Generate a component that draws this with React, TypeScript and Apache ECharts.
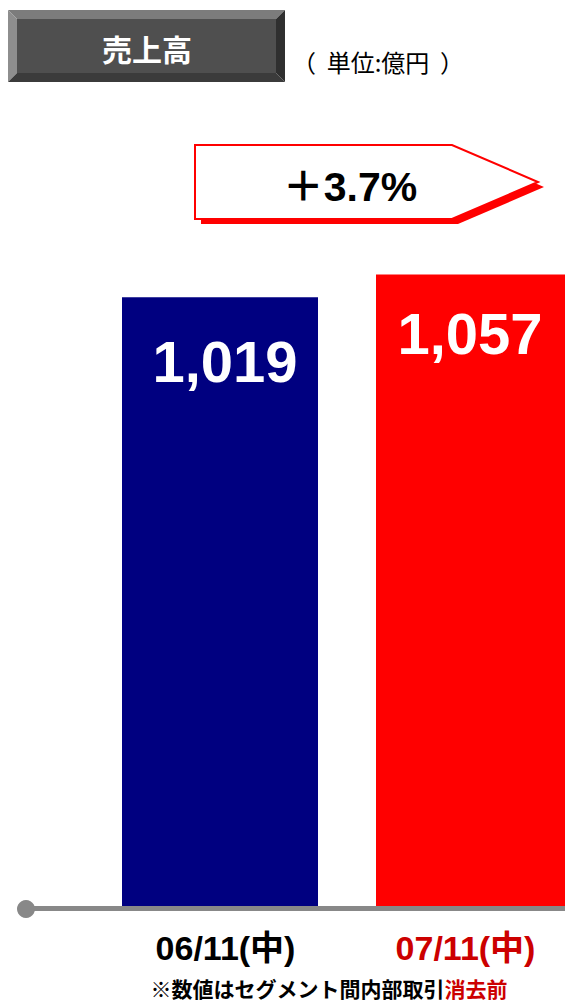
import React, { useEffect, useRef } from "react";
import * as echarts from "echarts";

const categories = ["06/11(中)", "07/11(中)"];
const values = [1019, 1057];
const barColors = ["#000080", "#ff0000"];
const labelColors = ["#000000", "#cc0000"];
const changeText = "＋3.7%";
const titleText = "売上高";
const unitText = "（  単位:億円  ）";
const noteBlack = "※数値はセグメント間内部取引";
const noteRed = "消去前";

export default function App() {
  const ref = useRef<HTMLDivElement>(null);
  useEffect(() => {
    if (!ref.current) return;
    const chart = echarts.init(ref.current, null, { renderer: "svg" });
    const labelOffsets = [[5, 0], [-4, 0]];
    const labelDistances = [35, 30];
    const catPads = [[0, 0, 0, 11], [0, 17, 0, 0]];
    chart.setOption({
      animation: false,
      backgroundColor: "#ffffff",
      grid: { left: 220, width: 254, top: 189, height: 717, containLabel: false },
      xAxis: {
        type: "category",
        boundaryGap: false,
        data: categories.map((c, i) => ({
          value: c,
          textStyle: { color: labelColors[i], padding: catPads[i] },
        })),
        axisLine: { show: false },
        axisTick: { show: false },
        splitLine: { show: false },
        axisLabel: {
          margin: 25,
          fontSize: 34,
          fontWeight: "bold",
          fontFamily: "'Liberation Sans', 'Noto Sans CJK JP', sans-serif",
          interval: 0,
        },
      },
      yAxis: {
        type: "value",
        min: 0,
        max: 1200,
        show: false,
        splitLine: { show: false },
      },
      series: [
        {
          type: "bar",
          barWidth: 196,
          data: values.map((v, i) => ({
            value: v,
            itemStyle: { color: barColors[i] },
            label: {
              show: true,
              position: "insideTop",
              distance: labelDistances[i],
              offset: labelOffsets[i],
              formatter: (p: any) => Number(p.value).toLocaleString("en-US"),
              color: "#ffffff",
              fontSize: 58,
              fontWeight: "bold",
              fontFamily: "'Liberation Sans', Arial, sans-serif",
            },
          })),
        },
      ],
      graphic: [
        { type: "polygon", shape: { points: [[8, 10], [285, 10], [276, 19], [17, 19]] }, style: { fill: "#7c7c7c" }, z: 10 },
        { type: "polygon", shape: { points: [[8, 10], [17, 19], [17, 73], [8, 82]] }, style: { fill: "#8e8e8e" }, z: 10 },
        { type: "polygon", shape: { points: [[285, 10], [285, 82], [276, 73], [276, 19]] }, style: { fill: "#2f2f2f" }, z: 10 },
        { type: "polygon", shape: { points: [[8, 82], [17, 73], [276, 73], [285, 82]] }, style: { fill: "#3b3b3b" }, z: 10 },
        { type: "rect", shape: { x: 17, y: 19, width: 259, height: 54 }, style: { fill: "#4f4f4f" }, z: 10 },
        {
          type: "text", x: 147, y: 48, z: 11,
          style: { text: titleText, fill: "#ffffff", font: "bold 30px 'Noto Sans CJK JP'", align: "center", verticalAlign: "middle" },
        },
        {
          type: "text", x: 378, y: 61, z: 11,
          style: { text: unitText, fill: "#000000", font: "24px 'Noto Sans CJK JP'", align: "center", verticalAlign: "middle" },
        },
        {
          type: "polygon", z: 10,
          shape: { points: [[201, 150], [458, 150], [544, 187], [458, 224], [201, 224]] },
          style: { fill: "#ff0000" },
        },
        {
          type: "polygon", z: 11,
          shape: { points: [[195, 145], [452, 145], [538, 182], [452, 219], [195, 219]] },
          style: { fill: "#ffffff", stroke: "#ff0000", lineWidth: 2 },
        },
        {
          type: "text", x: 350, y: 187, z: 12,
          style: { text: changeText, fill: "#000000", font: "bold 41px 'Liberation Sans', 'Noto Sans CJK JP'", align: "center", verticalAlign: "middle" },
        },
        {
          type: "line", z: 20,
          shape: { x1: 26, y1: 908.5, x2: 565, y2: 908.5 },
          style: { stroke: "#888888", lineWidth: 5 },
        },
        { type: "circle", z: 21, shape: { cx: 26, cy: 909, r: 9 }, style: { fill: "#888888" } },
        {
          type: "text", x: 329, y: 988, z: 12,
          style: {
            text: "{a|" + noteBlack + "}{b|" + noteRed + "}",
            align: "center",
            verticalAlign: "middle",
            rich: {
              a: { fill: "#000000", fontSize: 21, fontWeight: "bold", fontFamily: "'Noto Sans CJK JP'" },
              b: { fill: "#cc0000", fontSize: 21, fontWeight: "bold", fontFamily: "'Noto Sans CJK JP'" },
            },
          },
        },
      ],
    });
    return () => chart.dispose();
  }, []);
  return (
    <div
      ref={ref}
      style={{ position: "absolute", left: 0, top: 0, width: 565, height: 1003 }}
    />
  );
}
